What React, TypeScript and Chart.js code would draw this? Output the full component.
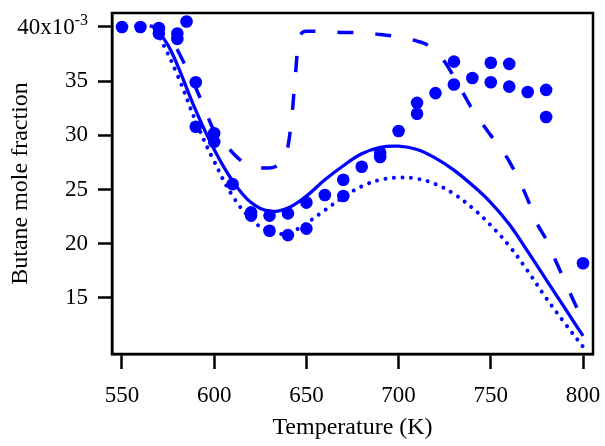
import React, { useEffect, useRef } from 'react';
import { Chart, registerables } from 'chart.js';

Chart.register(...registerables);

// Tick labels
const xTicks = [550, 600, 650, 700, 750, 800];
const yTicks = [15, 20, 25, 30, 35, 40];

// Measured butane mole fraction (x10^-3) vs temperature (K)
const measuredT = [550, 560, 570, 570, 580, 580, 585, 590, 590, 600, 600, 610, 620, 620, 630, 630, 640, 640, 650, 650, 660, 670, 670, 680, 690, 690, 700, 710, 710, 720, 730, 730, 740, 750, 750, 760, 760, 770, 780, 780, 800];
const measuredFraction = [40.0, 40.0, 39.9, 39.4, 39.4, 38.9, 40.5, 34.9, 30.8, 30.2, 29.4, 25.5, 22.9, 22.6, 22.6, 21.2, 22.8, 20.8, 23.8, 21.4, 24.5, 25.9, 24.4, 27.1, 28.4, 28.0, 30.4, 33.0, 32.0, 33.9, 36.8, 34.7, 35.3, 36.7, 34.9, 36.6, 34.5, 34.0, 34.2, 31.7, 18.2];

// Model curve (solid)
const solidT = [568, 570, 575, 580, 590, 600, 610, 620, 630, 640, 650, 660, 670, 680, 690, 700, 710, 720, 730, 740, 750, 760, 770, 780, 790, 800];
const solidFraction = [39.8, 39.5, 38.3, 36.5, 32.3, 28.7, 25.8, 23.8, 23.0, 23.3, 24.4, 25.9, 27.2, 28.3, 28.9, 29.0, 28.7, 27.9, 26.8, 25.4, 23.8, 21.8, 19.3, 16.7, 14.1, 11.5];

// Model curve (dotted)
const dottedT = [568, 570, 580, 590, 600, 610, 620, 630, 640, 650, 660, 670, 680, 690, 700, 710, 720, 730, 740, 750, 760, 770, 780, 790, 800];
const dottedFraction = [39.6, 39.2, 35.6, 31.3, 27.6, 24.4, 22.3, 21.1, 21.0, 21.9, 23.1, 24.3, 25.3, 25.9, 26.1, 26.0, 25.5, 24.6, 23.3, 21.7, 19.8, 17.5, 15.0, 12.7, 10.5];

// Model curve (dashed)
const dashedT = [565, 570, 575, 580, 585, 590, 595, 600, 605, 610, 615, 620, 625, 630, 635, 638, 640, 642, 644, 646, 650, 660, 670, 680, 690, 700, 710, 715, 720, 725, 730, 735, 740, 750, 760, 770, 775, 780, 785, 790, 795, 800];
const dashedFraction = [40.1, 39.9, 39.3, 37.9, 36.2, 34.4, 32.4, 30.4, 29.4, 28.4, 27.6, 27.1, 27.0, 27.0, 27.3, 28.0, 29.0, 31.5, 35.5, 39.0, 39.6, 39.6, 39.5, 39.5, 39.3, 39.1, 38.7, 38.4, 37.8, 36.8, 35.4, 33.9, 32.4, 30.0, 27.6, 24.1, 21.9, 20.4, 18.5, 16.6, 14.7, 12.9];

const BLUE = '#0000ff';
const FONT = 'Liberation Serif';

const toPoints = (xs: number[], ys: number[]) => xs.map((x, i) => ({ x, y: ys[i] }));

const noPad = (s: any) => {
  s.paddingTop = 0;
  s.paddingBottom = 0;
  s.paddingLeft = 0;
  s.paddingRight = 0;
};

export default function App() {
  const ref = useRef<HTMLCanvasElement>(null);

  useEffect(() => {
    document.body.style.margin = '0';
    const canvas = ref.current!;

    const framePlugin = {
      id: 'frame',
      afterDraw(chart: any) {
        const { ctx, chartArea: a } = chart;
        ctx.save();
        ctx.strokeStyle = '#000';
        ctx.lineWidth = 2.5;
        ctx.strokeRect(a.left, a.top, a.right - a.left, a.bottom - a.top);
        const ys = chart.scales.y;
        const y = ys.getPixelForValue(40);
        const right = ys.right - 14 - 10;
        ctx.fillStyle = '#000';
        ctx.textAlign = 'right';
        ctx.font = `16px "${FONT}"`;
        const sup = '-3';
        const sw = ctx.measureText(sup).width;
        ctx.textBaseline = 'alphabetic';
        ctx.fillText(sup, right, y - 2);
        ctx.font = `23px "${FONT}"`;
        ctx.textBaseline = 'middle';
        ctx.fillText('40x10', right - sw, y + 1);
        ctx.restore();
      },
    };

    const chart = new Chart(canvas, {
      type: 'scatter',
      data: {
        datasets: [
          {
            label: 'dotted',
            data: toPoints(dottedT, dottedFraction),
            showLine: true,
            borderColor: BLUE,
            borderWidth: 4,
            borderDash: [0.01, 8.5],
            borderCapStyle: 'round',
            pointRadius: 0,
            tension: 0.4,
            fill: false,
          } as any,
          {
            label: 'dashed',
            data: toPoints(dashedT, dashedFraction),
            showLine: true,
            borderColor: BLUE,
            borderWidth: 3.5,
            borderDash: [16, 22],
            pointRadius: 0,
            cubicInterpolationMode: 'monotone',
            fill: false,
          } as any,
          {
            label: 'solid',
            data: toPoints(solidT, solidFraction),
            showLine: true,
            borderColor: BLUE,
            borderWidth: 3.3,
            pointRadius: 0,
            tension: 0.4,
            fill: false,
          } as any,
          {
            label: 'measured',
            data: toPoints(measuredT, measuredFraction),
            showLine: false,
            pointRadius: 6.3,
            pointBackgroundColor: BLUE,
            pointBorderWidth: 0,
            borderColor: BLUE,
          } as any,
        ],
      },
      options: {
        responsive: false,
        animation: false,
        layout: { padding: { top: 13, right: 12, left: 0, bottom: 0 } },
        plugins: { legend: { display: false }, tooltip: { enabled: false } },
        scales: {
          x: {
            type: 'linear',
            min: 544.58,
            max: 805.42,
            afterBuildTicks: (s: any) => {
              s.ticks = xTicks.map((v) => ({ value: v }));
            },
            afterFit: (s: any) => {
              s.height = 92;
              noPad(s);
            },
            grid: { drawOnChartArea: false, drawTicks: true, tickLength: 15, tickWidth: 2.5, tickColor: '#000' },
            border: { color: '#000', width: 2.5 },
            ticks: { font: { family: FONT, size: 23 }, color: '#000', padding: 13, maxRotation: 0, autoSkip: false },
            title: { display: true, text: 'Temperature (K)', font: { family: FONT, size: 24 }, color: '#000', padding: { top: 0, bottom: 4 } },
          },
          y: {
            type: 'linear',
            min: 9.83,
            max: 41.29,
            afterBuildTicks: (s: any) => {
              s.ticks = yTicks.map((v) => ({ value: v }));
            },
            afterFit: (s: any) => {
              s.width = 112;
              noPad(s);
            },
            grid: { drawOnChartArea: false, drawTicks: true, tickLength: 14, tickWidth: 2.5, tickColor: '#000' },
            border: { color: '#000', width: 2.5 },
            ticks: {
              font: { family: FONT, size: 23 },
              color: '#000',
              padding: 10,
              autoSkip: false,
              callback: (v: any) => (v === 40 ? '' : String(v)),
            },
            title: { display: true, text: 'Butane mole fraction', font: { family: FONT, size: 24 }, color: '#000', padding: { top: 6, bottom: 0 } },
          },
        },
      },
      plugins: [framePlugin],
    });

    return () => chart.destroy();
  }, []);

  return (
    <div style={{ position: 'fixed', left: 0, top: 0, width: 605, height: 446, background: '#fff' }}>
      <canvas ref={ref} width={605} height={446} />
    </div>
  );
}
